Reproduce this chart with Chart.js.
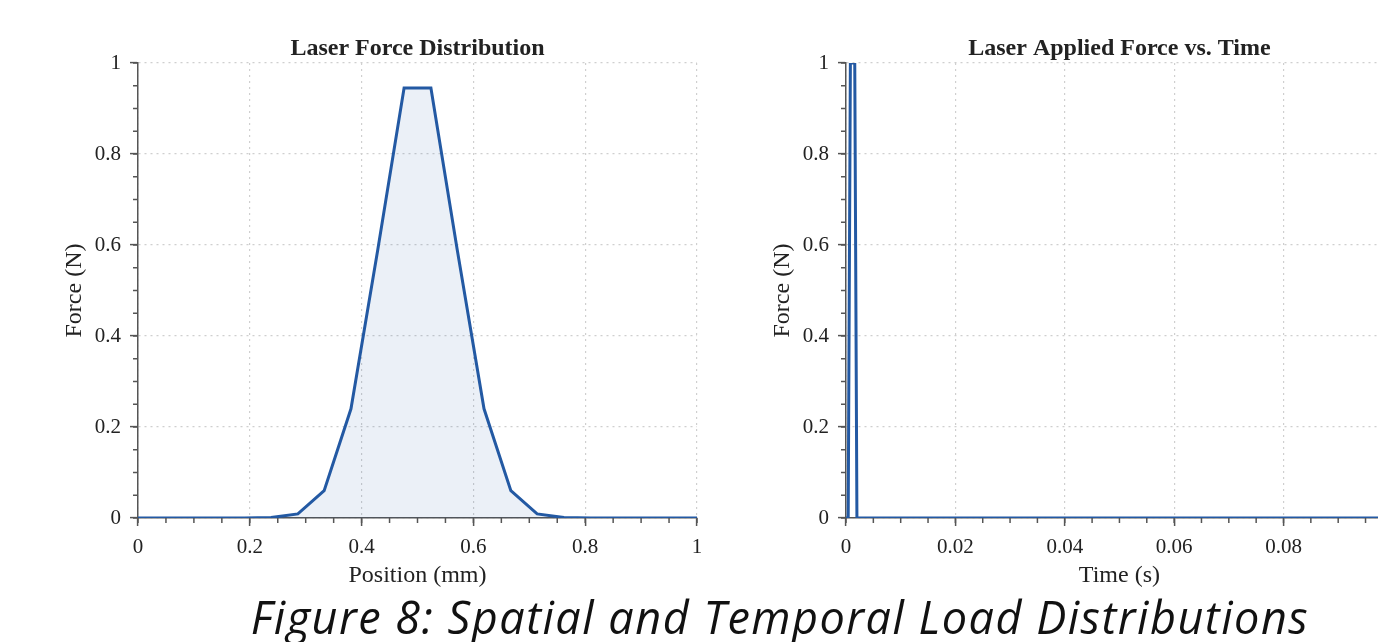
<!DOCTYPE html>
<html>
<head>
<meta charset="utf-8">
<script src="https://cdn.jsdelivr.net/npm/chart.js@4.4.0/dist/chart.umd.min.js"></script>
<style>
  html, body { margin: 0; padding: 0; background: #fff; overflow: hidden; width: 1378px; height: 642px; }
  #wrap { position: relative; width: 1378px; height: 642px; overflow: hidden; }
  #posBox { position: absolute; left: 50px; top: 0; width: 680px; height: 592px; }
  #timeBox { position: absolute; left: 758px; top: 0; width: 657px; height: 592px; }
  #caption {
    position: absolute; left: 0; width: 1560px; top: 586px; text-align: center;
    font-family: "Open Sans", sans-serif; font-style: italic; font-size: 45px; letter-spacing: 1.5px;
    line-height: 61px; color: #111; white-space: nowrap;
  }
</style>
</head>
<body>
<div id="wrap">
  <div id="posBox"><canvas id="posChart"></canvas></div>
  <div id="timeBox"><canvas id="timeChart"></canvas></div>
  <div id="caption">Figure 8: Spatial and Temporal Load Distributions</div>
</div>
<script>
// spatial distribution (position in mm, force in N)
const positions = [0, 0.048, 0.095, 0.143, 0.190, 0.238, 0.286, 0.333, 0.381, 0.429, 0.476,
                   0.524, 0.571, 0.619, 0.667, 0.714, 0.762, 0.810, 0.857, 0.905, 0.952, 1];
const spatialForce = [0, 0, 0, 0, 0, 0.001, 0.009, 0.06, 0.24, 0.59, 0.945,
                      0.945, 0.59, 0.24, 0.06, 0.009, 0.001, 0, 0, 0, 0, 0];

// temporal pulse (time in s, force in N)
const times = [0, 0.0004, 0.0008, 0.0016, 0.0020, 0.1];
const temporalForce = [0, 0, 1, 1, 0, 0];

const lineColor = '#2359a3';
const axisColor = '#555';
const gridColor = '#cfcfcf';
const textColor = '#222';
const serif = '"Liberation Serif", "DejaVu Serif", serif';
const minorStep = { pos: 0.05, time: 0.005, force: 0.05 };

// small ticks between the labelled ones
const minorTicks = {
  id: 'minorTicks',
  afterDraw(chart) {
    const ctx = chart.ctx;
    const xs = chart.scales.x, ys = chart.scales.y;
    const opts = chart.options.plugins.minorTicks;
    ctx.save();
    ctx.strokeStyle = axisColor;
    ctx.lineWidth = 1.5;
    for (let v = xs.min; v <= xs.max + 1e-9; v += opts.xStep) {
      const px = xs.getPixelForValue(v);
      ctx.beginPath();
      ctx.moveTo(px, ys.bottom);
      ctx.lineTo(px, ys.bottom + 5);
      ctx.stroke();
    }
    for (let v = ys.min; v <= ys.max + 1e-9; v += opts.yStep) {
      const py = ys.getPixelForValue(v);
      ctx.beginPath();
      ctx.moveTo(xs.left, py);
      ctx.lineTo(xs.left - 5, py);
      ctx.stroke();
    }
    ctx.restore();
  }
};

const tickLabel = v => String(Number(v.toFixed(4)));

function makeOptions(title, xTitle, xMax, xStep, xMinor, rightPad) {
  return {
    responsive: true,
    maintainAspectRatio: false,
    animation: false,
    layout: { padding: { left: 0, right: rightPad, top: 0, bottom: 0 } },
    plugins: {
      legend: { display: false },
      tooltip: { enabled: false },
      title: {
        display: true, text: title, color: textColor, fullSize: false,
        font: { family: serif, size: 24, weight: 'bold', lineHeight: 1 },
        padding: { top: 37, bottom: 2 }
      },
      minorTicks: { xStep: xMinor, yStep: minorStep.force }
    },
    scales: {
      x: {
        type: 'linear', min: 0, max: xMax,
        afterFit: s => { s.height = 74; },
        ticks: { stepSize: xStep, color: textColor, font: { family: serif, size: 21 }, padding: 9, maxRotation: 0, callback: tickLabel },
        grid: { color: gridColor, lineWidth: 1.2, tickLength: 8, tickColor: axisColor, tickWidth: 1.5 },
        border: { color: axisColor, width: 1.5, dash: [2, 4] },
        title: { display: true, text: xTitle, color: textColor, font: { family: serif, size: 24 }, padding: { top: 0, bottom: 2 } }
      },
      y: {
        type: 'linear', min: 0, max: 1,
        afterFit: s => { s.width = 88; },
        ticks: { stepSize: 0.2, color: textColor, font: { family: serif, size: 21 }, padding: 9, callback: tickLabel },
        grid: { color: gridColor, lineWidth: 1.2, tickLength: 8, tickColor: axisColor, tickWidth: 1.5 },
        border: { color: axisColor, width: 1.5, dash: [2, 4] },
        title: { display: true, text: 'Force (N)', color: textColor, font: { family: serif, size: 24 }, padding: { top: 10, bottom: 0 } }
      }
    }
  };
}

new Chart(document.getElementById('posChart'), {
  type: 'line',
  data: {
    datasets: [{
      data: positions.map((x, i) => ({ x: x, y: spatialForce[i] })),
      borderColor: lineColor,
      backgroundColor: 'rgba(35, 89, 163, 0.09)',
      fill: 'origin',
      borderWidth: 3,
      pointRadius: 0,
      tension: 0
    }]
  },
  options: makeOptions('Laser Force Distribution', 'Position (mm)', 1, 0.2, minorStep.pos, 33),
  plugins: [minorTicks]
});

new Chart(document.getElementById('timeChart'), {
  type: 'line',
  data: {
    datasets: [{
      data: times.map((t, i) => ({ x: t, y: temporalForce[i] })),
      borderColor: lineColor,
      backgroundColor: 'transparent',
      fill: false,
      borderWidth: 3,
      pointRadius: 0,
      tension: 0
    }]
  },
  options: makeOptions('Laser Applied Force vs. Time', 'Time (s)', 0.1, 0.02, minorStep.time, 20),
  plugins: [minorTicks]
});
</script>
</body>
</html>
